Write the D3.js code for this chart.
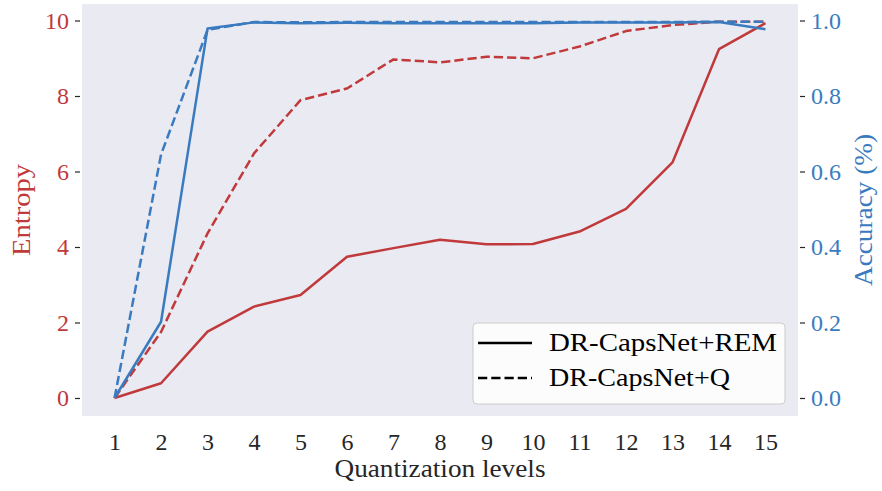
<!DOCTYPE html>
<html>
<head>
<meta charset="utf-8">
<script src="https://cdn.jsdelivr.net/npm/d3@7"></script>
<style>
  body { margin: 0; background: #fff; }
  svg text { font-family: "Liberation Serif", "DejaVu Serif", serif; }
</style>
</head>
<body>
<div id="chart"></div>
<script>
"use strict";

// quantization levels on the x axis
const levels = [1, 2, 3, 4, 5, 6, 7, 8, 9, 10, 11, 12, 13, 14, 15];

// entropy (left axis)
const entropyREM = [0, 0.39, 1.76, 2.42, 2.73, 3.74, 3.97, 4.19, 4.07, 4.08, 4.41, 5.01, 6.24, 9.24, 9.93];
const entropyQ = [0, 1.75, 4.36, 6.48, 7.89, 8.2, 8.97, 8.89, 9.04, 9.0, 9.31, 9.72, 9.88, 9.97, 9.97];

// accuracy (right axis)
const accREM = [0, 0.202, 0.979, 0.995, 0.993, 0.994, 0.993, 0.993, 0.993, 0.993, 0.995, 0.995, 0.995, 0.996, 0.977];
const accQ = [0, 0.645, 0.975, 0.996, 0.995, 0.996, 0.996, 0.996, 0.996, 0.996, 0.996, 0.996, 0.996, 0.997, 0.997];

const entropyTicks = [0, 2, 4, 6, 8, 10];
const accTicks = [0, 0.2, 0.4, 0.6, 0.8, 1.0];
const legendNames = ["DR-CapsNet+REM", "DR-CapsNet+Q"];

const red = "#c0393b", blue = "#3a7bc0";

const W = 882, H = 491;
const plot = { left: 82, right: 798, top: 4, bottom: 416 };

const svg = d3.select("#chart").append("svg")
    .attr("width", W)
    .attr("height", H);

svg.append("rect")
    .attr("x", plot.left).attr("y", plot.top)
    .attr("width", plot.right - plot.left)
    .attr("height", plot.bottom - plot.top)
    .attr("fill", "#eaeaf2");

const x = d3.scaleLinear().domain([0.3, 15.7]).range([plot.left, plot.right]);
const yL = d3.scaleLinear().domain([-0.477, 10.437]).range([plot.bottom, plot.top]);
const yR = d3.scaleLinear().domain([-0.0477, 1.0437]).range([plot.bottom, plot.top]);

// x axis
const xAxis = svg.append("g")
    .attr("transform", "translate(0," + plot.bottom + ")")
    .call(d3.axisBottom(x).tickValues(levels).tickSize(0).tickPadding(17).tickFormat(d3.format("d")));
xAxis.select(".domain").remove();
xAxis.selectAll("text").attr("font-size", 24).attr("fill", "#262626");

// left axis
const leftAxis = svg.append("g")
    .attr("transform", "translate(" + (plot.left - 2) + ",0)")
    .call(d3.axisLeft(yL).tickValues(entropyTicks).tickSize(5).tickPadding(6).tickFormat(d3.format("d")));
leftAxis.select(".domain").remove();
leftAxis.selectAll("line").attr("stroke", "#262626").attr("stroke-width", 1.2);
leftAxis.selectAll("text").attr("font-size", 24).attr("fill", red);

// right axis
const rightAxis = svg.append("g")
    .attr("transform", "translate(" + (plot.right + 2) + ",0)")
    .call(d3.axisRight(yR).tickValues(accTicks).tickSize(5).tickPadding(6).tickFormat(d3.format(".1f")));
rightAxis.select(".domain").remove();
rightAxis.selectAll("line").attr("stroke", "#262626").attr("stroke-width", 1.2);
rightAxis.selectAll("text").attr("font-size", 24).attr("fill", blue);

// axis titles (stretched a bit to match the wider LaTeX font)
svg.append("text")
    .attr("x", (plot.left + plot.right) / 2).attr("y", 477)
    .attr("text-anchor", "middle").attr("font-size", 25).attr("fill", "#262626")
    .attr("textLength", 211).attr("lengthAdjust", "spacingAndGlyphs")
    .text("Quantization levels");

svg.append("text")
    .attr("transform", "translate(30," + (plot.top + plot.bottom) / 2 + ") rotate(-90)")
    .attr("text-anchor", "middle").attr("font-size", 25).attr("fill", red)
    .attr("textLength", 92).attr("lengthAdjust", "spacingAndGlyphs")
    .text("Entropy");

svg.append("text")
    .attr("transform", "translate(872," + (plot.top + plot.bottom) / 2 + ") rotate(-90)")
    .attr("text-anchor", "middle").attr("font-size", 25).attr("fill", blue)
    .attr("textLength", 152).attr("lengthAdjust", "spacingAndGlyphs")
    .text("Accuracy (%)");

// lines
function drawLine(vals, yScale, color, dashed) {
    const line = d3.line()
        .x((d, i) => x(levels[i]))
        .y(d => yScale(d));
    svg.append("path")
        .datum(vals)
        .attr("d", line)
        .attr("fill", "none")
        .attr("stroke", color)
        .attr("stroke-width", 2.5)
        .attr("stroke-linejoin", "round")
        .attr("stroke-dasharray", dashed ? "9.25,4" : null);
}

drawLine(entropyREM, yL, red, false);
drawLine(entropyQ, yL, red, true);
drawLine(accREM, yR, blue, false);
drawLine(accQ, yR, blue, true);

// legend
const legendWidths = [228, 181];
const lg = svg.append("g").attr("transform", "translate(473,323)");
lg.append("rect")
    .attr("width", 312).attr("height", 81)
    .attr("rx", 4)
    .attr("fill", "#fff").attr("fill-opacity", 0.85)
    .attr("stroke", "#cccccc").attr("stroke-width", 1);

legendNames.forEach((name, i) => {
    const yy = 20 + i * 35;
    lg.append("line")
        .attr("x1", 5).attr("x2", 59)
        .attr("y1", yy).attr("y2", yy)
        .attr("stroke", "#000").attr("stroke-width", 2.5)
        .attr("stroke-dasharray", i === 1 ? "9.25,4" : null);
    lg.append("text")
        .attr("x", 76).attr("y", yy + 8)
        .attr("font-size", 25).attr("fill", "#000")
        .attr("textLength", legendWidths[i]).attr("lengthAdjust", "spacingAndGlyphs")
        .text(name);
});
</script>
</body>
</html>
